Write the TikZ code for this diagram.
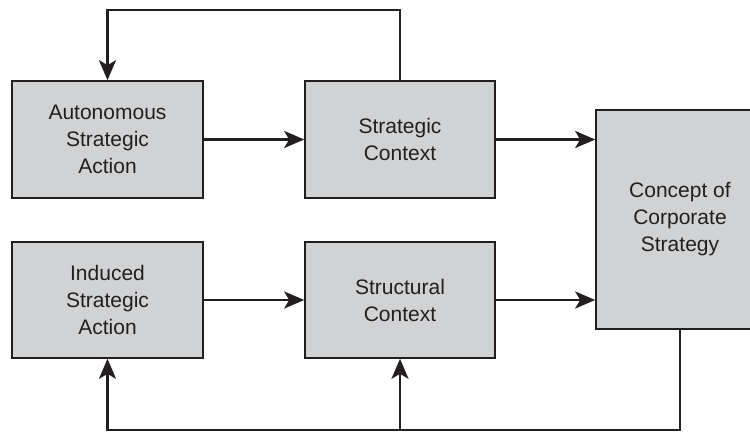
\documentclass[tikz,border=0pt]{standalone}
\usepackage{fontspec}
\setmainfont{Liberation Sans}
\usetikzlibrary{arrows.meta}
\definecolor{boxfill}{RGB}{209,210,212}
\definecolor{ink}{RGB}{35,31,32}
\begin{document}
\begin{tikzpicture}[x=1pt,y=-1pt,
  box/.style={draw=ink, line width=1.6pt, fill=boxfill, text=ink, align=center,
    inner sep=0pt, font=\fontsize{21}{27}\selectfont},
  arr/.style={draw=ink, line width=2.6pt, -{Stealth[length=20pt,width=17pt,inset=5pt]}},
  ln/.style={draw=ink, line width=2.6pt}]
\useasboundingbox (0,0) rectangle (750,432);
\clip (0,0) rectangle (750,432);
\node[box, minimum width=191pt, minimum height=117pt] (A) at (107.5,139.5) {Autonomous\\Strategic\\Action};
\node[box, minimum width=190pt, minimum height=117pt] (SC) at (400,139.5) {Strategic\\Context};
\node[box, minimum width=191pt, minimum height=116pt] (I) at (107.5,300) {Induced\\Strategic\\Action};
\node[box, minimum width=190pt, minimum height=116pt] (ST) at (400,300) {Structural\\Context};
\node[box, minimum width=168pt, minimum height=219pt] (C) at (680,219.5) {Concept of\\Corporate\\Strategy};
\draw[arr] (A.east) -- (SC.west);
\draw[arr] (I.east) -- (ST.west);
\draw[arr] (SC.east) -- (SC.east -| C.west);
\draw[arr] (ST.east) -- (ST.east -| C.west);
\coordinate (tl) at (A.north |- 0,10);
\draw[arr] (SC.north) |- (tl) -- (A.north);
\coordinate (bl) at (I.south |- 0,430);
\draw[arr] (C.south) |- (bl) -- (I.south);
\coordinate (bm) at (ST.south |- bl);
\draw[arr] (bm) -- (ST.south);
\end{tikzpicture}
\end{document}
